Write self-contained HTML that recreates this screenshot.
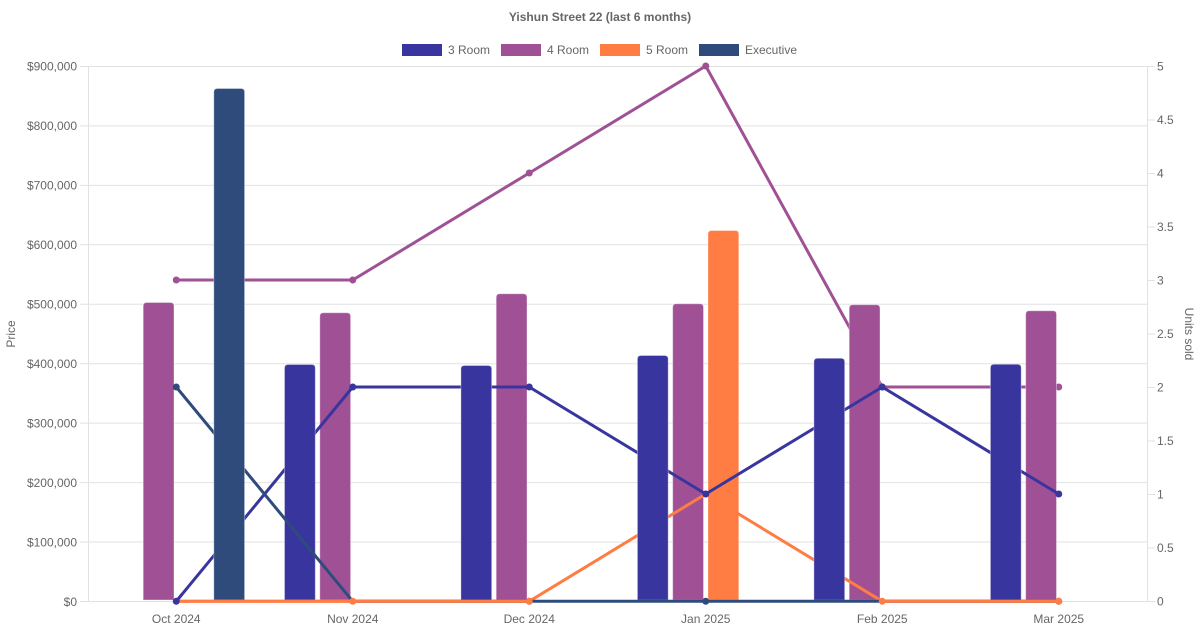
<!DOCTYPE html>
<html>
<head>
<meta charset="utf-8">
<style>
  html,body{margin:0;padding:0;background:#fff;}
  svg{display:block;}
  text{font-family:"Liberation Sans",Arial,sans-serif;fill:#666;}
</style>
</head>
<body>
<svg width="1200" height="630" viewBox="0 0 1200 630" xmlns="http://www.w3.org/2000/svg">
  <!-- Title -->
  <text x="600" y="21" text-anchor="middle" font-size="12" font-weight="bold">Yishun Street 22 (last 6 months)</text>

  <!-- Legend -->
  <rect x="402" y="44" width="40" height="12" fill="#39359e"/>
  <text x="448" y="54" font-size="12">3 Room</text>
  <rect x="501" y="44" width="40" height="12" fill="#a05195"/>
  <text x="547" y="54" font-size="12">4 Room</text>
  <rect x="600" y="44" width="40" height="12" fill="#ff7c43"/>
  <text x="646" y="54" font-size="12">5 Room</text>
  <rect x="699" y="44" width="40" height="12" fill="#2f4b7c"/>
  <text x="745" y="54" font-size="12">Executive</text>

  <!-- Grid lines (left axis) -->
  <g stroke="#e2e2e2" stroke-width="1">
    <line x1="80" y1="66.5" x2="1147" y2="66.5"/>
    <line x1="80" y1="125.9" x2="1147" y2="125.9"/>
    <line x1="80" y1="185.4" x2="1147" y2="185.4"/>
    <line x1="80" y1="244.8" x2="1147" y2="244.8"/>
    <line x1="80" y1="304.2" x2="1147" y2="304.2"/>
    <line x1="80" y1="363.7" x2="1147" y2="363.7"/>
    <line x1="80" y1="423.1" x2="1147" y2="423.1"/>
    <line x1="80" y1="482.6" x2="1147" y2="482.6"/>
    <line x1="80" y1="542" x2="1147" y2="542"/>
    <line x1="80" y1="601.5" x2="1147" y2="601.5"/>
    <line x1="88.5" y1="66" x2="88.5" y2="602"/>
    <line x1="1147.5" y1="66" x2="1147.5" y2="602"/>
    <line x1="1147" y1="66.5" x2="1155" y2="66.5"/>
    <line x1="1147" y1="120" x2="1155" y2="120"/>
    <line x1="1147" y1="173.5" x2="1155" y2="173.5"/>
    <line x1="1147" y1="227" x2="1155" y2="227"/>
    <line x1="1147" y1="280.5" x2="1155" y2="280.5"/>
    <line x1="1147" y1="334" x2="1155" y2="334"/>
    <line x1="1147" y1="387.5" x2="1155" y2="387.5"/>
    <line x1="1147" y1="441" x2="1155" y2="441"/>
    <line x1="1147" y1="494.5" x2="1155" y2="494.5"/>
    <line x1="1147" y1="548" x2="1155" y2="548"/>
    <line x1="1147" y1="601.5" x2="1155" y2="601.5"/>
  </g>

  <!-- Left tick labels -->
  <g font-size="12" text-anchor="end">
    <text x="77" y="70.5">$900,000</text>
    <text x="77" y="130">$800,000</text>
    <text x="77" y="189.5">$700,000</text>
    <text x="77" y="249">$600,000</text>
    <text x="77" y="308.5">$500,000</text>
    <text x="77" y="368">$400,000</text>
    <text x="77" y="427.5">$300,000</text>
    <text x="77" y="487">$200,000</text>
    <text x="77" y="546.5">$100,000</text>
    <text x="77" y="606">$0</text>
  </g>

  <!-- Right tick labels -->
  <g font-size="12" text-anchor="start">
    <text x="1157" y="70.5">5</text>
    <text x="1157" y="124">4.5</text>
    <text x="1157" y="177.5">4</text>
    <text x="1157" y="231">3.5</text>
    <text x="1157" y="284.5">3</text>
    <text x="1157" y="338">2.5</text>
    <text x="1157" y="391.5">2</text>
    <text x="1157" y="445">1.5</text>
    <text x="1157" y="498.5">1</text>
    <text x="1157" y="552">0.5</text>
    <text x="1157" y="605.5">0</text>
  </g>

  <!-- Axis titles -->
  <text x="0" y="0" font-size="12" text-anchor="middle" transform="translate(15,334) rotate(-90)">Price</text>
  <text x="0" y="0" font-size="12" text-anchor="middle" transform="translate(1185,334) rotate(90)">Units sold</text>

  <!-- X labels -->
  <g font-size="12" text-anchor="middle">
    <text x="176.25" y="623">Oct 2024</text>
    <text x="352.75" y="623">Nov 2024</text>
    <text x="529.25" y="623">Dec 2024</text>
    <text x="705.75" y="623">Jan 2025</text>
    <text x="882.25" y="623">Feb 2025</text>
    <text x="1058.75" y="623">Mar 2025</text>
  </g>

  <!-- 1. 4 Room line -->
  <polyline fill="none" stroke="#a05195" stroke-width="3" stroke-linejoin="round" points="176.25,280 352.75,280 529.25,173 705.75,66 882.25,387 1058.75,387"/>
  <g fill="#a05195">
    <circle cx="176.25" cy="280" r="3.5"/><circle cx="352.75" cy="280" r="3.5"/><circle cx="529.25" cy="173" r="3.5"/>
    <circle cx="705.75" cy="66" r="3.5"/><circle cx="882.25" cy="387" r="3.5"/><circle cx="1058.75" cy="387" r="3.5"/>
  </g>

  <!-- 2. 4 Room bars -->
  <g fill="#a05195" stroke="#ffffff" stroke-opacity="0.35" stroke-width="1">
    <path d="M143.2,600 V306 Q143.2,302.5 146.7,302.5 H170.5 Q174,302.5 174,306 V600 Z"/>
    <path d="M319.8,600 V316.3 Q319.8,312.8 323.3,312.8 H347.1 Q350.6,312.8 350.6,316.3 V600 Z"/>
    <path d="M496.2,600 V297.3 Q496.2,293.8 499.7,293.8 H523.5 Q527,293.8 527,297.3 V600 Z"/>
    <path d="M672.7,600 V307.3 Q672.7,303.8 676.2,303.8 H700 Q703.5,303.8 703.5,307.3 V600 Z"/>
    <path d="M849.2,600 V308.3 Q849.2,304.8 852.7,304.8 H876.5 Q880,304.8 880,308.3 V600 Z"/>
    <path d="M1025.7,600 V314.3 Q1025.7,310.8 1029.2,310.8 H1053 Q1056.5,310.8 1056.5,314.3 V600 Z"/>
  </g>

  <!-- 3. 5 Room bar -->
  <path fill="#ff7c43" stroke="#ffffff" stroke-opacity="0.35" stroke-width="1" d="M708,600 V234 Q708,230.5 711.5,230.5 H735.3 Q738.8,230.5 738.8,234 V600 Z"/>

  <!-- 4. 5 Room line -->
  <polyline fill="none" stroke="#ff7c43" stroke-width="3" stroke-linejoin="round" points="176.25,601.3 352.75,601.3 529.25,601.3 705.75,494 882.25,601.3 1058.75,601.3"/>
  <circle cx="705.75" cy="494" r="3.5" fill="#ff7c43"/>

  <!-- 5. 3 Room line -->
  <polyline fill="none" stroke="#39359e" stroke-width="3" stroke-linejoin="round" points="176.25,601.3 352.75,387 529.25,387 705.75,494 882.25,387 1058.75,494"/>
  <g fill="#39359e">
    <circle cx="352.75" cy="387" r="3.5"/><circle cx="529.25" cy="387" r="3.5"/>
    <circle cx="705.75" cy="494" r="3.5"/><circle cx="882.25" cy="387" r="3.5"/><circle cx="1058.75" cy="494" r="3.5"/>
  </g>

  <!-- 6. 3 Room bars -->
  <g fill="#39359e" stroke="#ffffff" stroke-opacity="0.35" stroke-width="1">
    <path d="M284.5,600 V368 Q284.5,364.5 288,364.5 H311.8 Q315.3,364.5 315.3,368 V600 Z"/>
    <path d="M460.9,600 V369 Q460.9,365.5 464.4,365.5 H488.2 Q491.7,365.5 491.7,369 V600 Z"/>
    <path d="M637.4,600 V359 Q637.4,355.5 640.9,355.5 H664.7 Q668.2,355.5 668.2,359 V600 Z"/>
    <path d="M813.9,600 V361.7 Q813.9,358.2 817.4,358.2 H841.2 Q844.7,358.2 844.7,361.7 V600 Z"/>
    <path d="M990.4,600 V367.7 Q990.4,364.2 993.9,364.2 H1017.7 Q1021.2,364.2 1021.2,367.7 V600 Z"/>
  </g>

  <!-- 7. Executive line -->
  <polyline fill="none" stroke="#2f4b7c" stroke-width="3" stroke-linejoin="round" points="176.25,387 352.75,601.3 529.25,601.3 705.75,601.3 882.25,601.3 1058.75,601.3"/>
  <g fill="#2f4b7c">
    <circle cx="176.25" cy="387" r="3.5"/><circle cx="529.25" cy="601.3" r="3.5"/>
    <circle cx="705.75" cy="601.3" r="3.5"/><circle cx="1058.75" cy="601.3" r="3.5"/>
  </g>

  <!-- 8. Executive bar -->
  <path fill="#2f4b7c" stroke="#ffffff" stroke-opacity="0.35" stroke-width="1" d="M213.8,600 V92 Q213.8,88.5 217.3,88.5 H241.1 Q244.6,88.5 244.6,92 V600 Z"/>

  <!-- 9. Orange baseline segments on top of executive baseline -->
  <g fill="none" stroke="#ff7c43" stroke-width="3">
    <line x1="176.25" y1="601.3" x2="529.25" y2="601.3"/>
    <line x1="882.25" y1="601.3" x2="1058.75" y2="601.3"/>
  </g>
  <g fill="#ff7c43">
    <circle cx="352.75" cy="601.3" r="3.5"/><circle cx="529.25" cy="601.3" r="3.5"/>
    <circle cx="882.25" cy="601.3" r="3.5"/><circle cx="1058.75" cy="601.3" r="3.5"/>
  </g>
  <!-- 3 Room Oct point on top -->
  <line x1="176.25" y1="601.3" x2="182" y2="594.3" stroke="#39359e" stroke-width="3"/>
  <circle cx="176.25" cy="601.3" r="3.5" fill="#39359e"/>
</svg>
</body>
</html>
